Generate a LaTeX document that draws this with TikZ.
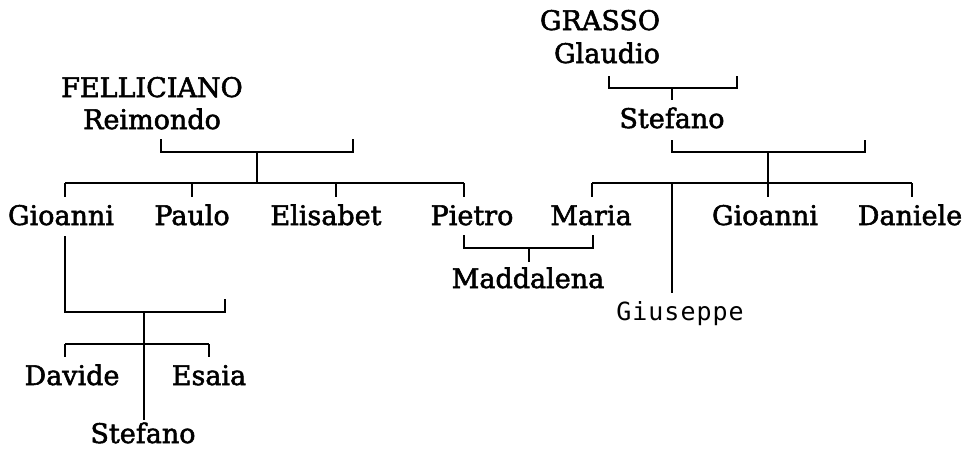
\documentclass[tikz,border=0pt]{standalone}
\usepackage{fontspec}
\setmainfont{DejaVu Serif}
\newfontfamily\namefont[FakeBold=2]{DejaVu Serif}
\newfontfamily\laterfont[LetterSpace=4]{DejaVu Sans Mono}
\usetikzlibrary{positioning}

\begin{document}
\begin{tikzpicture}[x=1pt, y=-1pt,
    person/.style={inner sep=0pt, anchor=base, font=\namefont\fontsize{27}{30}\selectfont},
    later/.style={inner sep=0pt, anchor=base, font=\laterfont\fontsize{25}{28}\selectfont},
    link/.style={line width=2pt}
]
\useasboundingbox (0,0) rectangle (969,450);

% parents
\node[person] (fellsur) at (152,97) {FELLICIANO};
\node[person] (reimondo) at (152,129) {Reimondo};
\node[person] (grasur) at (600,30) {GRASSO};
\node[person] (glaudio) at (607,63) {Glaudio};
\node[person] (stefano) at (672,128) {Stefano};

% children row
\node[person] (gioanni) at (61,225) {Gioanni};
\node[person] (paulo) at (192,225) {Paulo};
\node[person] (elisabet) at (326,225) {Elisabet};
\node[person] (pietro) at (472,225) {Pietro};
\node[person] (maria) at (591,225) {Maria};
\node[person] (gioanni2) at (765,225) {Gioanni};
\node[person] (daniele) at (910,225) {Daniele};

% grandchildren
\node[person] (maddalena) at (528,288) {Maddalena};
\node[later] (giuseppe) at (680,320) {Giuseppe};
\node[person] (davide) at (72,385) {Davide};
\node[person] (esaia) at (209,385) {Esaia};
\node[person] (stefano2) at (143,443) {Stefano};

% Reimondo and his children
\coordinate (reiA) at (161,139);
\coordinate (reiB) at (353,139);
\coordinate (reiJ) at (257,152);
\coordinate (felL) at (65,183);
\coordinate (felR) at (464,183);
\draw[link] (reiA) -- ++(0,13) -| (reiB);
\draw[link] (reiJ) -- (reiJ |- felL);
\draw[link] (felL) -- (felR);
\foreach \x/\n in {65/gio, 192/pau, 336/eli, 464/pie}
    \coordinate (\n-top) at (\x,197);
\foreach \n in {gio, pau, eli, pie}
    \draw[link] (\n-top |- felL) -- (\n-top);

% Glaudio and Stefano
\coordinate (glaA) at (609,76);
\coordinate (glaB) at (737,76);
\coordinate (glaJ) at (672,88);
\coordinate (stefTop) at (672,100);
\draw[link] (glaA) -- ++(0,12) -| (glaB);
\draw[link] (glaJ) -- (stefTop);

% Stefano and his children
\coordinate (stfA) at (672,140);
\coordinate (stfB) at (865,140);
\coordinate (stfJ) at (768,152);
\coordinate (graL) at (592,183);
\coordinate (graR) at (912,183);
\draw[link] (stfA) -- ++(0,12) -| (stfB);
\draw[link] (stfJ) -- (stfJ |- graL);
\draw[link] (graL) -- (graR);
\foreach \x/\n in {592/mar, 768/gia, 912/dan}
    \coordinate (\n-top) at (\x,197);
\foreach \n in {mar, gia, dan}
    \draw[link] (\n-top |- graL) -- (\n-top);
\coordinate (giuTop) at (672,293);
\draw[link] (giuTop |- graL) -- (giuTop);

% Pietro and Maria
\coordinate (pmA) at (464,235);
\coordinate (pmB) at (593,235);
\coordinate (pmJ) at (529,248);
\coordinate (madTop) at (529,262);
\draw[link] (pmA) -- ++(0,13) -| (pmB);
\draw[link] (pmJ) -- (madTop);

% Gioanni and his children
\coordinate (gioA) at (65,236);
\coordinate (gioB) at (225,299);
\coordinate (gioJ) at (144,312);
\coordinate (kidL) at (65,344);
\coordinate (kidR) at (209,344);
\coordinate (stf2Top) at (144,420);
\draw[link] (gioA) |- (gioJ) -| (gioB);
\draw[link] (gioJ) -- (stf2Top);
\draw[link] (kidL) -- (kidR);
\foreach \c in {kidL, kidR}
    \draw[link] (\c) -- ++(0,13);
\end{tikzpicture}
\end{document}
